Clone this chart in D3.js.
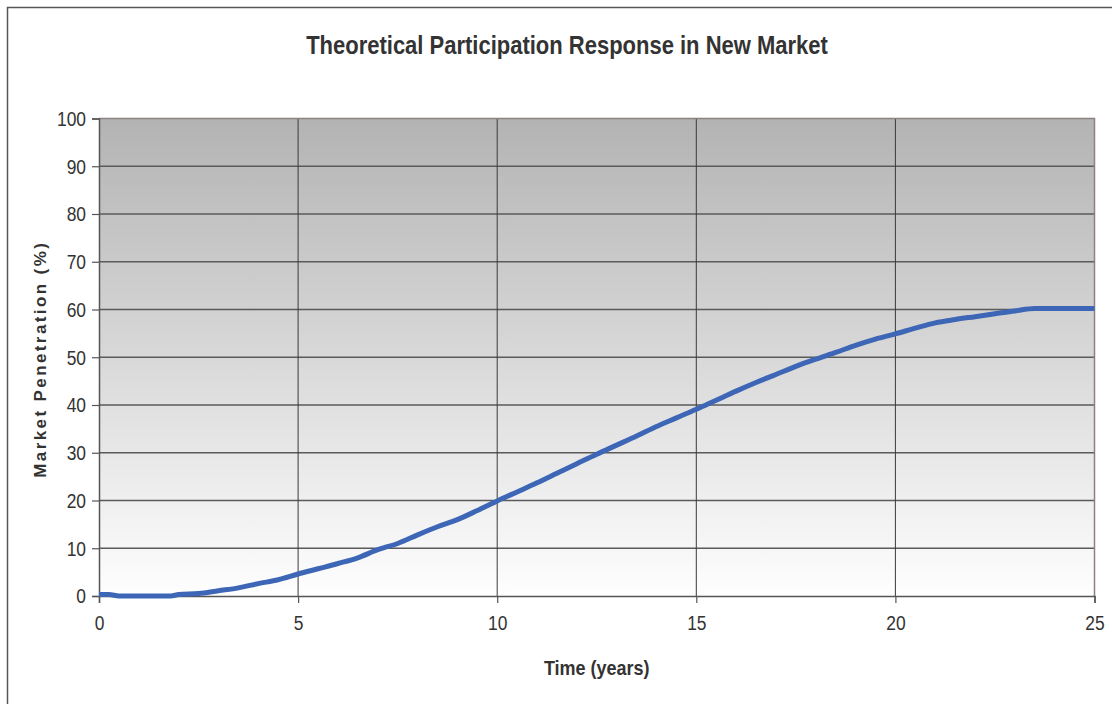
<!DOCTYPE html>
<html>
<head>
<meta charset="utf-8">
<script src="https://cdn.jsdelivr.net/npm/d3@7"></script>
<style>
  html, body { margin: 0; padding: 0; background: #fff; }
  svg { display: block; }
  .narrow { font-family: "Liberation Sans Narrow", "Arial Narrow", "Liberation Sans", Arial, sans-serif; }
</style>
</head>
<body>
<svg id="chart" width="1112" height="704"></svg>
<script>
// Time since market entry (years)
const years = [0, 0.25, 0.5, 1, 1.5, 1.8, 2, 2.5, 3, 3.5, 4, 4.5, 5, 5.5, 6, 6.5, 7, 7.5, 8, 8.5,
  9, 9.5, 10, 10.5, 11, 11.5, 12, 12.5, 13, 13.5, 14, 14.5, 15, 15.5, 16, 16.5, 17, 17.5,
  18, 18.5, 19, 19.5, 20, 20.5, 21, 21.5, 22, 22.5, 23, 23.5, 24, 24.5, 25];
// Market penetration (%)
const penetration = [0.3, 0.3, 0.0, 0.0, 0.0, 0.0, 0.3, 0.5, 1.1, 1.7, 2.6, 3.4, 4.6, 5.7, 6.8, 8.0, 9.7, 11.0, 12.8, 14.5,
  16.0, 17.9, 19.9, 21.8, 23.7, 25.7, 27.7, 29.7, 31.6, 33.5, 35.5, 37.3, 39.1, 41.0, 42.9, 44.7, 46.4, 48.1,
  49.6, 51.0, 52.5, 53.8, 54.9, 56.1, 57.2, 57.9, 58.5, 59.1, 59.7, 60.2, 60.2, 60.2, 60.2];
const xTicks = [0, 5, 10, 15, 20, 25];
const yTicks = [0, 10, 20, 30, 40, 50, 60, 70, 80, 90, 100];

const titleText = "Theoretical Participation Response in New Market";
const xTitle = "Time (years)";
const yTitle = "Market Penetration (%)";

const svg = d3.select("#chart");
const plot = { left: 99, top: 118.5, right: 1094.5, bottom: 596 };

const x = d3.scaleLinear().domain([0, 25]).range([plot.left, plot.right]);
const y = d3.scaleLinear().domain([0, 100]).range([plot.bottom, plot.top]);

// outer frame
svg.append("path")
  .attr("d", `M7.5,704 V7.5 H1112`)
  .attr("fill", "none").attr("stroke", "#555").attr("stroke-width", 1.5);

// plot background gradient
const defs = svg.append("defs");
const grad = defs.append("linearGradient").attr("id", "bg")
  .attr("x1", 0).attr("y1", 0).attr("x2", 0).attr("y2", 1);
grad.append("stop").attr("offset", "0%").attr("stop-color", "#b3b3b3");
grad.append("stop").attr("offset", "100%").attr("stop-color", "#fefefe");

svg.append("rect")
  .attr("x", plot.left).attr("y", plot.top)
  .attr("width", plot.right - plot.left).attr("height", plot.bottom - plot.top)
  .attr("fill", "url(#bg)");

// horizontal gridlines
svg.append("g").selectAll("line").data(yTicks.filter(d => d > 0 && d < 100)).join("line")
  .attr("x1", plot.left).attr("x2", plot.right)
  .attr("y1", d => y(d)).attr("y2", d => y(d))
  .attr("stroke", "#5a5a5a").attr("stroke-width", 1.3);

// vertical gridlines
svg.append("g").selectAll("line").data(xTicks.filter(d => d > 0 && d < 25)).join("line")
  .attr("x1", d => x(d)).attr("x2", d => x(d))
  .attr("y1", plot.top).attr("y2", plot.bottom)
  .attr("stroke", "#3a3a3a").attr("stroke-width", 1);

// top and right plot border
svg.append("path")
  .attr("d", `M${plot.left},${plot.top} H${plot.right} V${plot.bottom}`)
  .attr("fill", "none").attr("stroke", "#8c8080").attr("stroke-width", 1.5);

// axes
const yAxis = d3.axisLeft(y).tickValues(yTicks).tickSize(7).tickPadding(6);
const xAxis = d3.axisBottom(x).tickValues(xTicks).tickSize(7).tickPadding(13);

const gy = svg.append("g").attr("transform", `translate(${plot.left},0)`).call(yAxis);
const gx = svg.append("g").attr("transform", `translate(0,${plot.bottom})`).call(xAxis);

[gx, gy].forEach(g => {
  g.select(".domain").attr("stroke", "#555").attr("stroke-width", 1.5);
  g.selectAll(".tick line").attr("stroke", "#555").attr("stroke-width", 1.2);
  g.selectAll(".tick text")
    .attr("class", "narrow")
    .attr("font-size", 20).attr("fill", "#333");
});
gy.selectAll(".tick text").attr("dy", "0.34em");

// condense tick labels horizontally around their anchor
gy.selectAll(".tick text").each(function () {
  const t = d3.select(this);
  const ax = +t.attr("x");
  t.attr("transform", `translate(${ax},0) scale(0.87,1) translate(${-ax},0)`);
});
gx.selectAll(".tick text").attr("transform", "scale(0.87,1)");

// penetration curve
const pts = years.map((t, i) => [t, penetration[i]]);
svg.append("path")
  .datum(pts)
  .attr("fill", "none")
  .attr("stroke", "#3d66b6")
  .attr("stroke-width", 5)
  .attr("stroke-linejoin", "round")
  .attr("d", d3.line().x(d => x(d[0])).y(d => y(d[1])).curve(d3.curveMonotoneX));

// titles (condensed horizontally)
svg.append("text")
  .attr("class", "narrow")
  .attr("transform", "translate(567,54) scale(0.88,1)")
  .attr("text-anchor", "middle")
  .attr("font-size", 25).attr("font-weight", "bold").attr("fill", "#333")
  .text(titleText);

svg.append("text")
  .attr("class", "narrow")
  .attr("transform", `translate(${(plot.left + plot.right) / 2},675) scale(0.9,1)`)
  .attr("text-anchor", "middle")
  .attr("font-size", 20).attr("font-weight", "bold").attr("fill", "#333")
  .text(xTitle);

svg.append("text")
  .attr("transform", `translate(46,${(plot.top + plot.bottom) / 2 + 2}) rotate(-90)`)
  .attr("text-anchor", "middle")
  .attr("font-family", "'Liberation Sans', Arial, sans-serif")
  .attr("font-size", 17).attr("font-weight", "bold").attr("fill", "#333")
  .attr("letter-spacing", "2.4px")
  .text(yTitle);
</script>
</body>
</html>
